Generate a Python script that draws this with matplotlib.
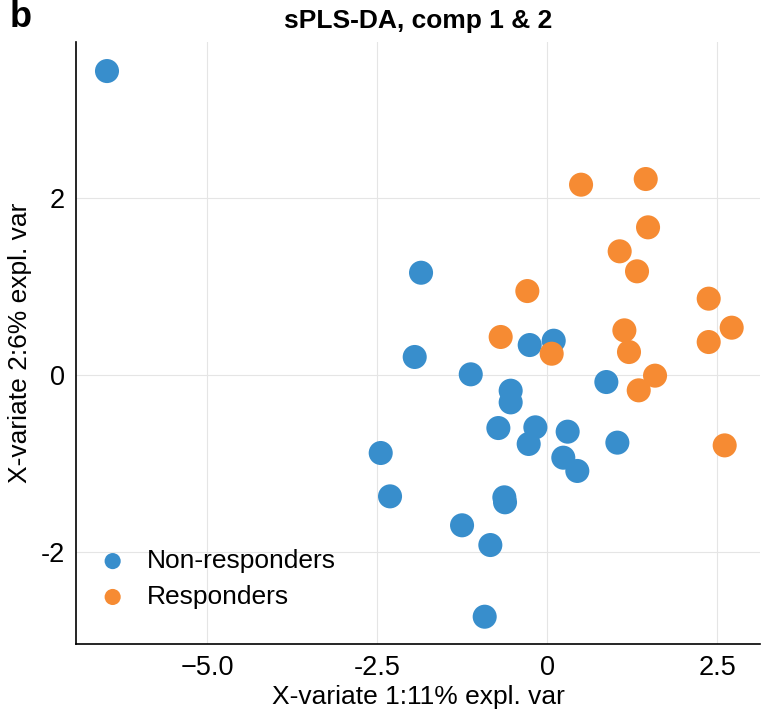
import matplotlib
matplotlib.use("Agg")
import matplotlib.pyplot as plt

plt.rcParams['font.family'] = ['Liberation Sans', 'DejaVu Sans']

# Non-responders (blue)
non_x = [-6.475, -1.857, -1.95, -1.126, -0.259, 0.094, 0.868, -0.539, -0.539, -0.72,
         -0.176, -0.274, 0.299, 1.03, 0.235, 0.441, -2.45, -2.313, -0.632, -0.622,
         -1.254, -0.838, -0.921]
non_y = [3.437, 1.158, 0.206, 0.01, 0.341, 0.39, -0.077, -0.175, -0.307, -0.597,
         -0.589, -0.777, -0.638, -0.762, -0.932, -1.082, -0.879, -1.369, -1.38, -1.436,
         -1.696, -1.919, -2.729]
# Responders (orange)
res_x = [0.496, 1.447, 1.481, 1.064, 1.319, -0.294, 2.373, 2.711, 2.373, -0.686,
         1.133, 1.201, 0.064, 1.584, 1.344, 2.608]
res_y = [2.153, 2.217, 1.671, 1.40, 1.174, 0.951, 0.865, 0.537, 0.375, 0.432,
         0.507, 0.262, 0.243, -0.005, -0.171, -0.793]

x_ticks = [-5.0, -2.5, 0.0, 2.5]
x_ticklabels = ['\u22125.0', '-2.5', '0', '2.5']
y_ticks = [-2, 0, 2]
y_ticklabels = ['-2', '0', '2']

blue = '#388ECC'
orange = '#F68B33'

fig = plt.figure(figsize=(7.64, 7.16), dpi=100)
ax = fig.add_axes([0.0991, 0.1006, 0.8959, 0.8407])

ax.scatter(non_x, non_y, s=300, color=blue, edgecolors='none', label='Non-responders', zorder=3)
ax.scatter(res_x, res_y, s=300, color=orange, edgecolors='none', label='Responders', zorder=3)

ax.set_xlim(-6.935, 3.13)
ax.set_ylim(-3.037, 3.765)
ax.set_xticks(x_ticks)
ax.set_xticklabels(x_ticklabels)
ax.set_yticks(y_ticks)
ax.set_yticklabels(y_ticklabels)
ax.tick_params(axis='x', length=0, labelsize=19.5, pad=8, colors='black')
ax.tick_params(axis='y', length=0, labelsize=19.5, pad=8, colors='black')
ax.grid(True, color='#E5E5E5', linewidth=0.8, zorder=0)
ax.set_axisbelow(True)
for s in ['top', 'right']:
    ax.spines[s].set_visible(False)
for s in ['left', 'bottom']:
    ax.spines[s].set_color('black')
    ax.spines[s].set_linewidth(1.2)

ax.set_xlabel('X-variate 1:11% expl. var', fontsize=19, labelpad=3)
ax.set_ylabel('X-variate 2:6% expl. var', fontsize=19, labelpad=6)
ax.set_title('sPLS-DA, comp 1 & 2', fontsize=19, fontweight='bold', pad=10)

leg = ax.legend(loc='center left', bbox_to_anchor=(0.0, 0.108), frameon=False, fontsize=19,
                markerscale=0.67, handlelength=1.0, handletextpad=0.79, labelspacing=0.45,
                borderaxespad=0.5, borderpad=0.4)

fig.text(0.012, 0.975, 'b', fontsize=26, fontweight='bold', va='center', ha='left')

fig.savefig('out.png', dpi=100)
